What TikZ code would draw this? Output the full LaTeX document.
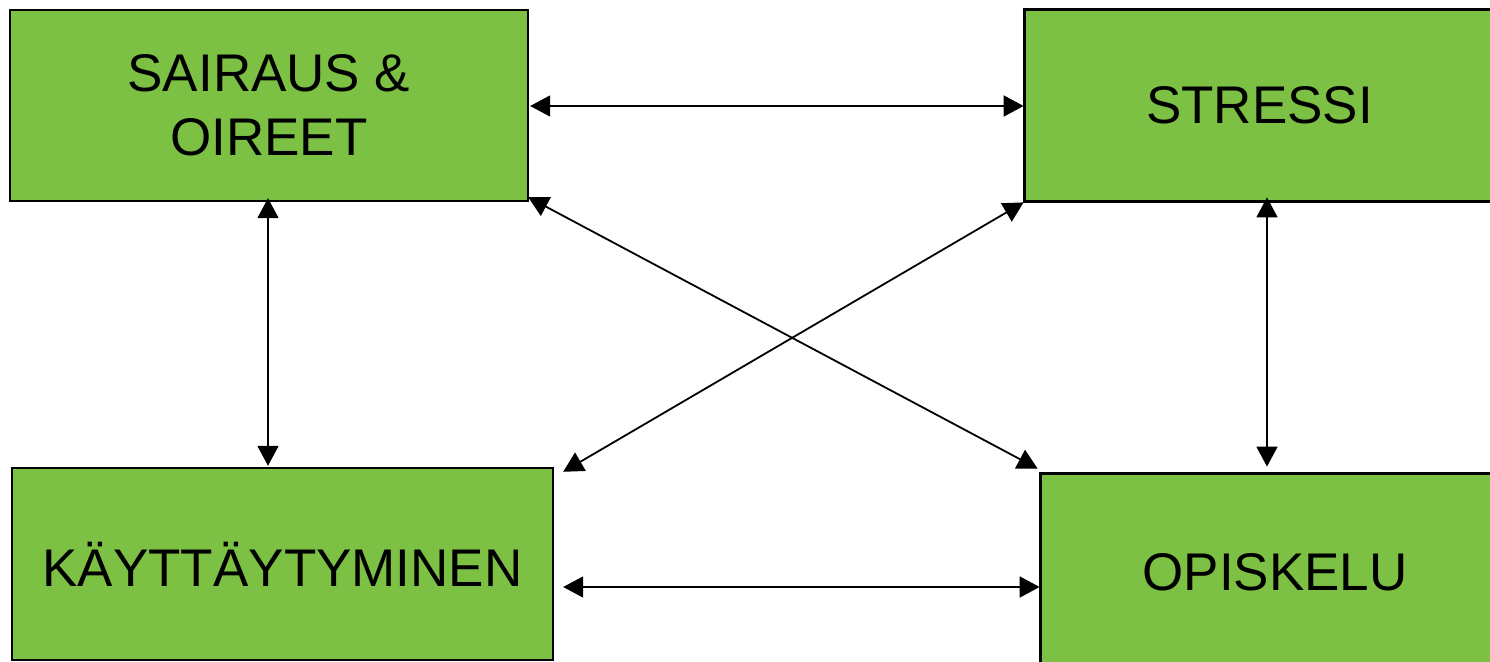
\documentclass[tikz,border=0pt]{standalone}
\usepackage{fontspec}
\setmainfont{Liberation Sans}
\usetikzlibrary{arrows.meta,calc}
\definecolor{boxgreen}{RGB}{124,193,68}
\tikzset{
  gfill/.style={fill=boxgreen, rectangle, align=center,
    inner sep=0pt, font=\fontsize{26.5pt}{32pt}\selectfont},
  gbox/.style={gfill, draw=black, line width=1.2pt},
  gedge/.style={draw=black, line width=1.2pt},
  dbl/.style={line width=0.9pt, {Triangle[length=10pt,width=10.5pt]}-{Triangle[length=10pt,width=10.5pt]}}
}
\begin{document}
\begin{tikzpicture}[x=0.5pt,y=-0.5pt]
\useasboundingbox (0,0) rectangle (1490,662);
\clip (0,0) rectangle (1490,662);
\fill[white] (0,0) rectangle (1490,662);
\node[gbox, minimum width=259pt, minimum height=95.5pt] (A) at (269,105.5) {SAIRAUS \&\\OIREET};
\node[gfill, minimum width=234.5pt, minimum height=95.5pt] (S) at (1259.5,105.5) {\raisebox{-1.5pt}{STRESSI}};
\draw[gedge] (S.north east) -- (S.north west) -- (S.south west) -- (S.south east);
\node[gbox, minimum width=270.5pt, minimum height=96pt] (K) at (282.5,564) {KÄYTTÄYTYMINEN};
\node[gfill, minimum width=234pt, minimum height=98pt] (O) at (1275,572) {OPISKELU};
\draw[gedge] (O.north east) -- (O.north west) -- (O.south west);
\draw[dbl] ($(A.east |- 0,106)+(1,0)$) -- ($(S.west |- 0,106)+(-1,0)$);
\draw[dbl] ($(A.south -| 268,0)+(0,-4)$) -- ($(K.north -| 268,0)+(0,-1)$);
\draw[dbl] ($(S.south -| 1267,0)+(0,-4)$) -- ($(O.north -| 1267,0)+(0,-7)$);
\draw[dbl] ($(K.east |- 0,587)+(9,0)$) -- ($(O.west |- 0,587)+(-1,0)$);
\draw[dbl] ($(A.south east)+(-1,-5)$) -- ($(O.north west)+(-3,-5)$);
\draw[dbl] ($(S.south west)+(-1,1)$) -- ($(K.north east)+(9,5)$);
\end{tikzpicture}
\end{document}
